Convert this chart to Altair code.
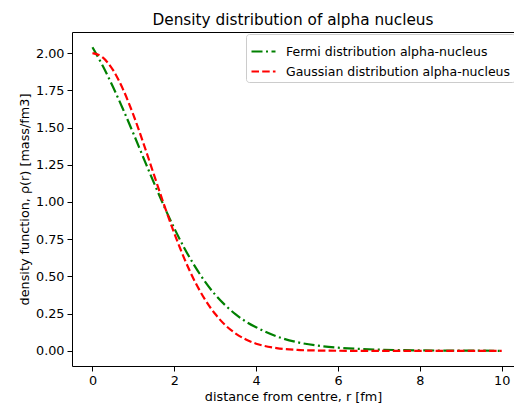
import altair as alt
import pandas as pd

r_values = [0, 0.25, 0.5, 0.75, 1.0, 1.25, 1.5, 1.75, 2.0, 2.25, 2.5, 2.75, 3.0, 3.25,
            3.5, 3.75, 4.0, 4.5, 5.0, 5.5, 6.0, 6.5, 7.0, 7.5, 8.0, 8.5, 9.0, 9.5, 10.0]
fermi = [2.04, 1.915, 1.774, 1.621, 1.46, 1.294, 1.13, 0.971, 0.823, 0.688, 0.569, 0.465,
         0.377, 0.305, 0.245, 0.196, 0.158, 0.097, 0.058, 0.035, 0.021, 0.013, 0.008,
         0.005, 0.003, 0.002, 0.001, 0.001, 0.0]
gaussian = [2.0, 1.971, 1.887, 1.755, 1.585, 1.391, 1.185, 0.981, 0.789, 0.616, 0.467,
            0.345, 0.247, 0.171, 0.116, 0.076, 0.048, 0.018, 0.006, 0.002, 0.0005, 0.0,
            0.0, 0.0, 0.0, 0.0, 0.0, 0.0, 0.0]
series_names = ["Fermi distribution alpha-nucleus", "Gaussian distribution alpha-nucleus"]
x_ticks = [0, 2, 4, 6, 8, 10]
y_ticks = [0.0, 0.25, 0.5, 0.75, 1.0, 1.25, 1.5, 1.75, 2.0]

rows = []
for name, vals in zip(series_names, [fermi, gaussian]):
    for r, v in zip(r_values, vals):
        rows.append({"r": r, "rho": v, "series": name})
df = pd.DataFrame(rows)

FONT = "DejaVu Sans"
x_scale = alt.Scale(domain=[-0.5, 10.3], nice=False, zero=False)
y_scale = alt.Scale(domain=[-0.102, 2.142], nice=False, zero=False)
y_title = "density function, ρ(r) [mass/fm3]"

lines = alt.Chart(df).mark_line(strokeWidth=2.2, interpolate="monotone").encode(
    x=alt.X("r:Q", scale=x_scale,
            axis=alt.Axis(values=x_ticks, format="d", title="distance from centre, r [fm]")),
    y=alt.Y("rho:Q", scale=y_scale,
            axis=alt.Axis(values=y_ticks, format=".2f", title=y_title)),
    color=alt.Color("series:N",
                    scale=alt.Scale(domain=series_names, range=["#008000", "#ff0000"]),
                    legend=alt.Legend(title=None, orient="none", legendX=174, legendY=2,
                                      symbolType="stroke", symbolSize=576,
                                      symbolStrokeWidth=2.2, labelFont=FONT,
                                      labelFontSize=12.5, labelColor="black",
                                      labelLimit=0, labelOffset=9, padding=4,
                                      rowPadding=-8, strokeColor="#cccccc",
                                      fillColor="white", cornerRadius=3)),
    strokeDash=alt.StrokeDash("series:N",
                              scale=alt.Scale(domain=series_names,
                                              range=[[11, 3.5, 2, 3.5], [7.5, 3.2]]),
                              legend=None),
)

top_spine = alt.Chart(df).mark_line(opacity=0).encode(
    x=alt.X("r:Q", scale=x_scale,
            axis=alt.Axis(orient="top", labels=False, ticks=False, title=None)),
    y=alt.Y("rho:Q", scale=y_scale,
            axis=alt.Axis(values=y_ticks, format=".2f", title=y_title)),
)

chart = alt.layer(lines, top_spine).resolve_axis(x="independent").properties(
    width=442,
    height=334,
    title=alt.TitleParams("Density distribution of alpha nucleus", font=FONT,
                          fontSize=15.3, fontWeight="normal", color="black",
                          offset=5, dy=16, baseline="bottom"),
    autosize=alt.AutoSizeParams(type="none"),
    padding={"left": 64, "top": 24, "right": 0, "bottom": 40},
).configure_view(
    stroke=None
).configure_axis(
    grid=False, domainColor="black", tickColor="black", labelColor="black",
    titleColor="black", labelFont=FONT, titleFont=FONT, labelFontSize=12.8,
    titleFontSize=12.8, titleFontWeight="normal", tickSize=5, labelPadding=3,
    titlePadding=4, domainWidth=1,
)

chart.save("out.html", embed_options={"renderer": "svg", "actions": False})
